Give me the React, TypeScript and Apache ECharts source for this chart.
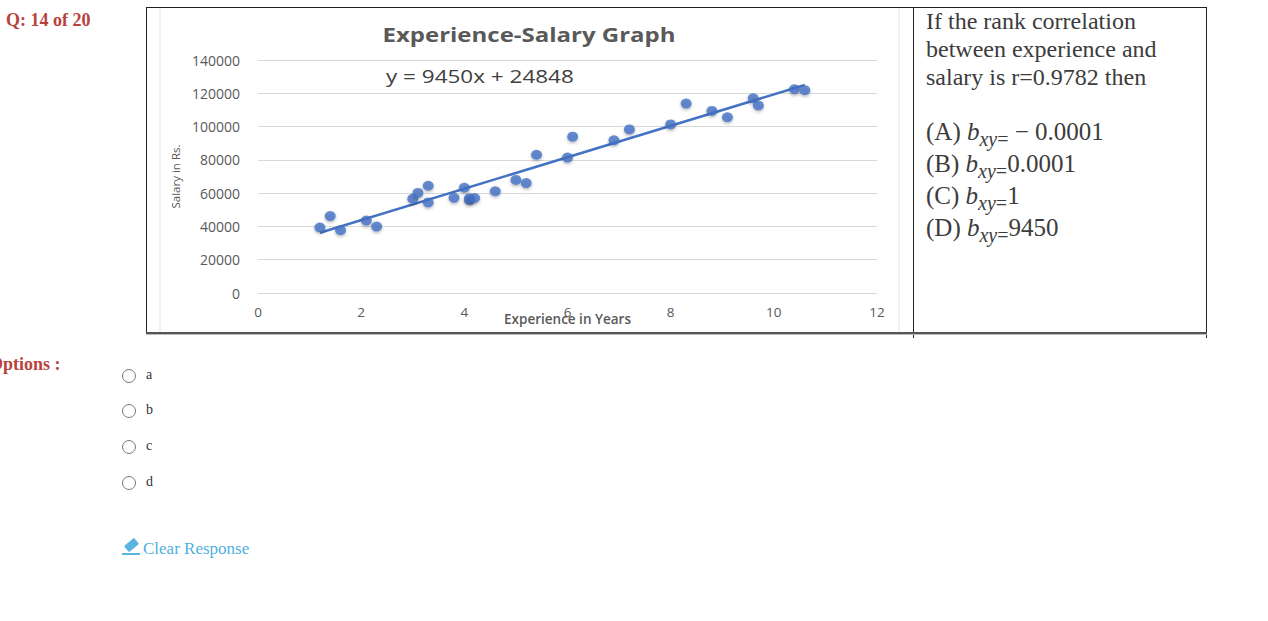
import React, { useEffect, useRef } from "react";
import * as echarts from "echarts";

// Experience (years) and salary (Rs.)
const EXPERIENCE = [1.2, 1.4, 1.6, 2.1, 2.3, 3.0, 3.1, 3.3, 3.3, 3.8, 4.0, 4.1, 4.1, 4.2, 4.6, 5.0, 5.2, 5.4, 6.0, 6.1, 6.9, 7.2, 8.0, 8.3, 8.8, 9.1, 9.6, 9.7, 10.4, 10.6];
const SALARY = [39343, 46205, 37731, 43525, 39891, 56642, 60150, 54445, 64445, 57189, 63218, 55794, 56957, 57081, 61111, 67938, 66029, 83088, 81363, 93940, 91738, 98273, 101302, 113812, 109431, 105582, 116969, 112635, 122391, 121872];
const SLOPE = 9450;
const INTERCEPT = 24848;
const X_TICKS = [0, 2, 4, 6, 8, 10, 12];
const Y_TICKS = [0, 20000, 40000, 60000, 80000, 100000, 120000, 140000];

const serif = '"Liberation Serif", "DejaVu Serif", serif';
const RED = "#b8433c";

function Chart() {
  const ref = useRef<HTMLDivElement>(null);
  useEffect(() => {
    if (!ref.current) return;
    const chart = echarts.init(ref.current, undefined, { renderer: "svg" });
    const pts = EXPERIENCE.map((x, i) => [x, SALARY[i]]);
    const xMin = Math.min(...EXPERIENCE);
    const xMax = Math.max(...EXPERIENCE);
    const trend = [
      [xMin, SLOPE * xMin + INTERCEPT],
      [xMax, SLOPE * xMax + INTERCEPT],
    ];
    chart.setOption({
      animation: false,
      backgroundColor: "#ffffff",
      graphic: [
        {
          type: "rect",
          shape: { x: 13, y: -2, width: 739, height: 330 },
          style: { fill: "none", stroke: "#e4e4e4", lineWidth: 1 },
          silent: true,
        },
        {
          type: "text",
          x: 382,
          y: 26,
          scaleX: 1.2,
          style: {
            text: "Experience-Salary Graph",
            fontFamily: "Open Sans",
            fontSize: 20,
            fontWeight: "bold",
            fill: "#595959",
            align: "center",
            verticalAlign: "middle",
          },
        },
        {
          type: "text",
          x: 239,
          y: 68,
          scaleX: 1.25,
          style: {
            text: `y = ${SLOPE}x + ${INTERCEPT}`,
            fontFamily: "Open Sans",
            fontSize: 18,
            fill: "#404040",
            align: "left",
            verticalAlign: "middle",
          },
        },
      ],
      grid: { left: 111, right: 36, top: 52, bottom: 40, containLabel: false, outerBoundsMode: "none" },
      xAxis: {
        type: "value",
        min: X_TICKS[0],
        max: X_TICKS[X_TICKS.length - 1],
        interval: 2,
        name: "Experience in Years",
        nameLocation: "middle",
        nameGap: 19,
        nameMoveOverlap: false,
        nameTextStyle: { fontFamily: "Open Sans", fontSize: 13.5, fontWeight: 600, color: "#595959" },
        axisLine: { show: false },
        axisTick: { show: false },
        splitLine: { show: false },
        axisLabel: { margin: 12, fontFamily: "Open Sans", fontSize: 13.5, color: "#595959" },
      },
      yAxis: {
        type: "value",
        min: Y_TICKS[0],
        max: Y_TICKS[Y_TICKS.length - 1],
        interval: 20000,
        name: "Salary in Rs.",
        nameLocation: "middle",
        nameGap: 77,
        nameMoveOverlap: false,
        nameTextStyle: { fontFamily: "Open Sans", fontSize: 11.5, color: "#595959" },
        axisLine: { show: false },
        axisTick: { show: false },
        splitLine: { show: true, lineStyle: { color: "#d9d9d9", width: 1 } },
        axisLabel: {
          margin: 18,
          fontFamily: "Open Sans",
          fontSize: 14,
          color: "#595959",
          formatter: (v: number) => String(v),
        },
      },
      series: [
        {
          type: "line",
          data: trend,
          showSymbol: false,
          symbol: "none",
          lineStyle: { color: "#4472c4", width: 2.5 },
          z: 2,
        },
        {
          type: "scatter",
          data: pts,
          symbolSize: [11, 10],
          itemStyle: {
            color: "#4472c4",
            shadowBlur: 3,
            shadowColor: "rgba(0,0,0,0.35)",
            shadowOffsetY: 1.5,
          },
          z: 3,
        },
      ],
    });
    return () => chart.dispose();
  }, []);
  return <div ref={ref} style={{ position: "absolute", left: 147, top: 8, width: 766, height: 325 }} />;
}

function Sub({ children }: { children: React.ReactNode }) {
  return (
    <span style={{ fontSize: 20, position: "relative", top: 6 }}>
      {children}
    </span>
  );
}

function Opt({ label, value, top }: { label: string; value: string; top: number }) {
  return (
    <div style={{ position: "absolute", left: 926, top, fontFamily: serif, fontSize: 25, color: "#3c3c3c", whiteSpace: "nowrap", lineHeight: "28px" }}>
      ({label}) <i>b</i>
      <Sub>
        <i>xy</i>=
      </Sub>
      {value}
    </div>
  );
}

function Radio({ top, label }: { top: number; label: string }) {
  return (
    <>
      <div
        style={{
          position: "absolute",
          left: 122,
          top: top - 7,
          width: 12,
          height: 12,
          borderRadius: "50%",
          border: "1.5px solid #7a7a7a",
          background: "#fff",
        }}
      />
      <div style={{ position: "absolute", left: 146, top: top - 9, fontFamily: serif, fontSize: 14, color: "#333", lineHeight: "16px" }}>{label}</div>
    </>
  );
}

export default function App() {
  return (
    <div style={{ position: "fixed", left: 0, top: 0, width: 1268, height: 621, background: "#fff", overflow: "hidden" }}>
      <div style={{ position: "absolute", left: 6, top: 9, fontFamily: serif, fontWeight: "bold", fontSize: 18, color: RED, lineHeight: "22px" }}>
        Q: 14 of 20
      </div>

      {/* table frame */}
      <div style={{ position: "absolute", left: 146, top: 7, width: 1060, height: 1, background: "#222" }} />
      <div style={{ position: "absolute", left: 146, top: 7, width: 1, height: 327, background: "#222" }} />
      <div style={{ position: "absolute", left: 913, top: 7, width: 1, height: 331, background: "#222" }} />
      <div style={{ position: "absolute", left: 1206, top: 7, width: 1, height: 331, background: "#222" }} />
      <Chart />
      <div style={{ position: "absolute", left: 146, top: 332, width: 1061, height: 2, background: "#555" }} />
      <div style={{ position: "absolute", left: 146, top: 334, width: 1061, height: 1, background: "#bbb" }} />

      {/* question text */}
      <div style={{ position: "absolute", left: 926, top: 7, fontFamily: serif, fontSize: 24, color: "#3c3c3c", lineHeight: "28px", whiteSpace: "nowrap" }}>
        <div>If the rank correlation</div>
        <div>between experience and</div>
        <div>salary is r=0.9782 then</div>
      </div>
      <Opt label="A" value=" − 0.0001" top={118} />
      <Opt label="B" value="0.0001" top={150} />
      <Opt label="C" value="1" top={182} />
      <Opt label="D" value="9450" top={214} />

      <div style={{ position: "absolute", left: -11, top: 353, fontFamily: serif, fontWeight: "bold", fontSize: 18, color: RED, lineHeight: "22px" }}>
        Options :
      </div>
      <Radio top={376} label="a" />
      <Radio top={411} label="b" />
      <Radio top={447} label="c" />
      <Radio top={483} label="d" />

      {/* clear response */}
      <div style={{ position: "absolute", left: 125, top: 541, width: 13, height: 8, background: "#5ab4e0", transform: "rotate(-40deg)", borderRadius: 1 }} />
      <div style={{ position: "absolute", left: 122, top: 553, width: 18, height: 1.5, background: "#5ab4e0" }} />
      <div style={{ position: "absolute", left: 143, top: 539, fontFamily: serif, fontSize: 17, color: "#4fb0e0", lineHeight: "20px" }}>
        Clear Response
      </div>
    </div>
  );
}
